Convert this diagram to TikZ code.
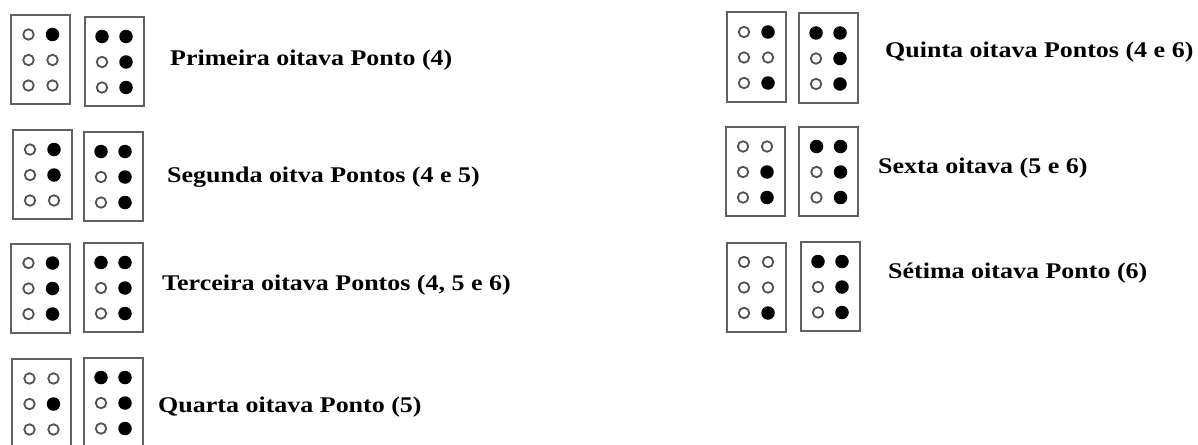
\documentclass[tikz,border=0pt]{standalone}
\usepackage{fontspec}
\setmainfont{Liberation Serif}
\newcommand{\bcell}[9]{%
  \node[cellbox] (#1) at (#2,#3) {};
  \node[#4dot] (#1-1) at ({#2-12},{#3-25}) {};
  \node[#5dot] (#1-2) at ({#2-12},{#3+0.5}) {};
  \node[#6dot] (#1-3) at ({#2-12},{#3+26}) {};
  \node[#7dot] (#1-4) at ({#2+12},{#3-25}) {};
  \node[#8dot] (#1-5) at ({#2+12},{#3+0.5}) {};
  \node[#9dot] (#1-6) at ({#2+12},{#3+26}) {};
}
\newcommand{\lab}[4]{%
  \node[labeltext] (#1) at (#2,#3) {\scalebox{1.16}[1]{#4}};
}
\begin{document}
\begin{tikzpicture}[x=1pt,y=-1pt,
  cellbox/.style={draw=black!62, line width=2pt, minimum width=59pt, minimum height=89pt, inner sep=0pt, rectangle},
  odot/.style={circle, draw=black!68, line width=1.8pt, minimum size=10.5pt, inner sep=0pt},
  fdot/.style={circle, fill=black, minimum size=13.5pt, inner sep=0pt},
  labeltext/.style={anchor=base west, inner sep=0pt, font=\fontsize{22.4}{26}\selectfont\bfseries}]
\fill[white] (0,0) rectangle (1198,444);
\clip (0,0) rectangle (1198,444);
\useasboundingbox (0,0) rectangle (1198,444);
% left column
\bcell{a1}{40.5}{59.5}{o}{o}{o}{f}{o}{o}
\bcell{b1}{114}{61.5}{f}{o}{o}{f}{f}{f}
\lab{t1}{170}{65}{Primeira oitava Ponto (4)}
\bcell{a2}{42}{174.5}{o}{o}{o}{f}{f}{o}
\bcell{b2}{113}{176.5}{f}{o}{o}{f}{f}{f}
\lab{t2}{167}{182}{Segunda oitva Pontos (4 e 5)}
\bcell{a3}{40.5}{288}{o}{o}{o}{f}{f}{f}
\bcell{b3}{113}{287.5}{f}{o}{o}{f}{f}{f}
\lab{t3}{162}{290}{Terceira oitava Pontos (4, 5 e 6)}
\bcell{a4}{41.5}{403.5}{o}{o}{o}{o}{f}{o}
\bcell{b4}{113}{402.5}{f}{o}{o}{f}{f}{f}
\lab{t4}{158}{412}{Quarta oitava Ponto (5)}
% right column
\bcell{a5}{756}{57}{o}{o}{o}{f}{o}{f}
\bcell{b5}{828}{58}{f}{o}{o}{f}{f}{f}
\lab{t5}{885}{57}{Quinta oitava Pontos (4 e 6)}
\bcell{a6}{755}{171.5}{o}{o}{o}{o}{f}{f}
\bcell{b6}{828.5}{171.5}{f}{o}{o}{f}{f}{f}
\lab{t6}{878}{173}{Sexta oitava (5 e 6)}
\bcell{a7}{756}{287}{o}{o}{o}{o}{o}{f}
\bcell{b7}{830}{286.5}{f}{o}{o}{f}{f}{f}
\lab{t7}{888}{278}{Sétima oitava Ponto (6)}
\end{tikzpicture}
\end{document}
